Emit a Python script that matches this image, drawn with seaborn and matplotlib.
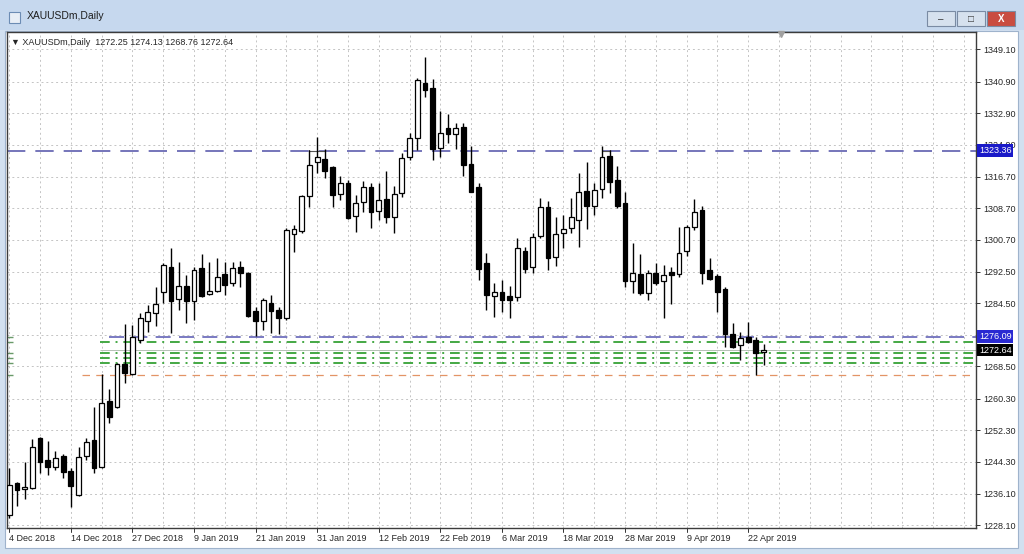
import matplotlib
matplotlib.use("Agg")
import matplotlib.pyplot as plt
import matplotlib.transforms as mtransforms
from matplotlib.patches import Rectangle
import seaborn as sns

# Daily XAUUSDm candles, 4 Dec 2018 .. 24 Apr 2019
opens = [1230.7, 1238.9, 1237.4, 1237.6, 1250.3, 1244.7, 1242.9, 1245.8, 1241.9, 1235.8,
         1245.7, 1249.8, 1242.9, 1259.7, 1258.2, 1269.1, 1266.6, 1275.2, 1280.0, 1282.1,
         1287.4, 1293.8, 1285.6, 1288.9, 1285.1, 1293.5, 1286.9, 1287.7, 1292.0, 1289.7,
         1293.8, 1292.2, 1282.6, 1280.0, 1284.6, 1282.8, 1280.8, 1302.2, 1302.9, 1311.8,
         1320.4, 1321.2, 1319.2, 1312.3, 1315.2, 1306.7, 1310.3, 1314.1, 1308.0, 1311.0,
         1306.4, 1312.6, 1321.7, 1326.6, 1340.5, 1339.2, 1324.0, 1329.1, 1327.6, 1329.4,
         1320.0, 1314.1, 1294.8, 1286.4, 1287.4, 1286.4, 1286.1, 1297.8, 1293.8, 1301.6,
         1309.0, 1296.3, 1302.4, 1303.7, 1305.7, 1313.1, 1309.3, 1313.6, 1322.0, 1315.9,
         1310.0, 1290.2, 1292.0, 1287.1, 1292.2, 1290.2, 1292.5, 1292.0, 1297.8, 1303.9,
         1308.3, 1293.0, 1291.5, 1288.2, 1276.7, 1273.9, 1276.0, 1275.2, 1272.25]
highs = [1242.7, 1239.1, 1244.2, 1250.0, 1250.5, 1249.5, 1247.0, 1246.3, 1242.7, 1248.0,
         1250.3, 1258.2, 1266.6, 1262.7, 1269.4, 1279.3, 1279.0, 1282.1, 1284.1, 1288.7,
         1294.8, 1298.6, 1295.0, 1291.7, 1293.8, 1297.1, 1295.0, 1296.0, 1295.0, 1295.0,
         1295.3, 1292.5, 1283.6, 1285.8, 1286.6, 1283.6, 1303.7, 1304.4, 1312.1, 1323.5,
         1326.8, 1323.8, 1319.4, 1316.9, 1315.9, 1312.1, 1315.6, 1315.2, 1315.2, 1318.2,
         1314.3, 1322.7, 1327.8, 1341.8, 1347.1, 1341.5, 1333.4, 1332.6, 1330.4, 1330.4,
         1324.5, 1315.2, 1297.3, 1289.7, 1290.5, 1288.9, 1301.1, 1298.8, 1302.4, 1311.3,
         1310.5, 1306.5, 1307.0, 1311.3, 1317.7, 1320.4, 1315.2, 1324.5, 1323.5, 1319.5,
         1312.8, 1299.9, 1297.1, 1293.0, 1294.8, 1294.3, 1293.8, 1303.9, 1304.4, 1311.0,
         1309.3, 1296.1, 1292.0, 1288.7, 1279.5, 1277.2, 1279.7, 1276.0, 1274.13]
lows = [1229.9, 1233.0, 1234.8, 1237.3, 1241.4, 1240.9, 1242.2, 1240.1, 1232.7, 1235.5,
        1244.7, 1241.4, 1242.7, 1254.1, 1258.0, 1264.3, 1266.3, 1274.5, 1277.2, 1278.7,
        1284.6, 1277.0, 1282.8, 1279.5, 1280.3, 1286.1, 1286.6, 1287.4, 1286.6, 1288.9,
        1288.7, 1281.0, 1276.2, 1277.7, 1277.0, 1276.7, 1280.3, 1297.6, 1302.4, 1309.0,
        1317.7, 1316.4, 1309.0, 1310.8, 1306.0, 1302.7, 1307.7, 1303.7, 1305.7, 1305.0,
        1302.4, 1311.5, 1320.9, 1323.5, 1337.0, 1320.9, 1321.7, 1325.3, 1323.8, 1316.9,
        1312.8, 1290.5, 1282.8, 1281.0, 1282.3, 1280.8, 1285.1, 1292.2, 1292.2, 1301.1,
        1293.0, 1294.0, 1298.6, 1302.4, 1298.8, 1303.4, 1307.0, 1311.3, 1312.6, 1308.8,
        1288.7, 1287.1, 1286.6, 1285.3, 1289.2, 1280.8, 1284.4, 1291.2, 1296.6, 1303.2,
        1289.5, 1290.5, 1282.3, 1273.4, 1273.2, 1270.1, 1274.4, 1266.3, 1268.76]
closes = [1238.4, 1237.1, 1237.8, 1248.0, 1244.2, 1242.9, 1245.2, 1241.6, 1238.1, 1245.5,
          1249.3, 1242.7, 1259.2, 1255.6, 1269.1, 1266.9, 1276.0, 1280.8, 1282.3, 1284.4,
          1294.3, 1285.1, 1288.9, 1285.1, 1293.0, 1286.4, 1287.7, 1291.2, 1289.2, 1293.5,
          1292.2, 1281.3, 1280.0, 1285.3, 1282.6, 1280.8, 1303.2, 1303.4, 1311.8, 1319.7,
          1321.7, 1318.2, 1312.1, 1315.2, 1306.2, 1310.0, 1314.1, 1307.7, 1310.8, 1306.4,
          1312.3, 1321.5, 1326.6, 1341.3, 1338.7, 1323.8, 1327.8, 1327.6, 1329.1, 1319.7,
          1312.9, 1293.3, 1286.6, 1287.4, 1285.3, 1285.3, 1298.6, 1293.3, 1301.4, 1309.0,
          1296.0, 1302.2, 1303.4, 1306.5, 1312.8, 1309.3, 1313.3, 1321.7, 1315.4, 1309.3,
          1290.2, 1292.2, 1287.1, 1292.2, 1289.7, 1291.7, 1291.7, 1297.3, 1303.9, 1307.7,
          1292.2, 1290.7, 1287.4, 1276.7, 1273.4, 1275.7, 1274.7, 1271.9, 1272.64]

date_labels = ["4 Dec 2018", "14 Dec 2018", "27 Dec 2018", "9 Jan 2019", "21 Jan 2019",
               "31 Jan 2019", "12 Feb 2019", "22 Feb 2019", "6 Mar 2019", "18 Mar 2019",
               "28 Mar 2019", "9 Apr 2019", "22 Apr 2019"]
date_bars = [0, 8, 16, 24, 32, 40, 48, 56, 64, 72, 80, 88, 96]

price_ticks = [1349.10, 1340.90, 1332.90, 1324.90, 1316.70, 1308.70, 1300.70, 1292.50,
               1284.50, 1276.40, 1268.50, 1260.30, 1252.30, 1244.30, 1236.10, 1228.10]

# drawn horizontal levels
res_level = 1323.36
sup_level = 1276.09
green_levels = [1274.77, 1271.98, 1270.55, 1269.28]
orange_level = 1266.30
bid = closes[-1]

sns.set_theme(style="white")
plt.rcParams["font.family"] = ["Liberation Sans", "DejaVu Sans"]

W, H = 1024, 554
fig = plt.figure(figsize=(W / 100, H / 100), dpi=100, facecolor="#D2E0F0")


def fx(px):
    return px / W


def fy(py):
    return 1 - py / H


# window chrome
fig.patches.append(Rectangle((0, fy(30)), 1, 30 / H, transform=fig.transFigure,
                             fc="#C6D8EE", ec="none", zorder=-3))
fig.patches.append(Rectangle((fx(5), fy(548)), fx(1013), (548 - 31) / H,
                             transform=fig.transFigure, fc="white", ec="#9FB3CC", lw=0.8,
                             zorder=-3))
fig.patches.append(Rectangle((fx(9), fy(23)), fx(11), 11 / H, transform=fig.transFigure,
                             fc="#E8EEF6", ec="#6C8CB4", lw=0.8, zorder=-2))
fig.text(fx(27), fy(16), "XAUUSDm,Daily", fontsize=7.5, va="center", color="#1E1E1E")
for x0, col in [(927, "#D6E1EE"), (957, "#D6E1EE"), (987, "#C94C40")]:
    fig.patches.append(Rectangle((fx(x0), fy(26)), fx(28), 15 / H, transform=fig.transFigure,
                                 fc=col, ec="#7A8BA3", lw=0.8, zorder=-2))
fig.text(fx(941), fy(19), "–", fontsize=7, ha="center", va="center", color="#333333")
fig.text(fx(971), fy(18.5), "□", fontsize=7, ha="center", va="center", color="#333333")
fig.text(fx(1001), fy(18.5), "X", fontsize=7, ha="center", va="center", color="white",
         fontweight="bold")

ax = fig.add_axes([fx(7), fy(528), (976 - 7) / W, (528 - 32) / H])
ax.set_zorder(5)
ax.set_facecolor("white")

x = list(range(len(opens)))
ax.vlines(x, lows, highs, color="black", lw=1, zorder=3)
bull = [i for i in x if closes[i] >= opens[i]]
bear = [i for i in x if closes[i] < opens[i]]
ax.bar(bull, [max(closes[i] - opens[i], 0.3) for i in bull],
       bottom=[opens[i] for i in bull], width=0.62, color="white", edgecolor="black",
       linewidth=0.9, zorder=4)
ax.bar(bear, [max(opens[i] - closes[i], 0.3) for i in bear],
       bottom=[closes[i] for i in bear], width=0.62, color="black", edgecolor="black",
       linewidth=0.9, zorder=4)

xmin, xmax = -0.3, 125.6
ax.set_xlim(xmin, xmax)
ax.set_ylim(1227.42, 1353.5)

# levels
ax.hlines(res_level, xmin, xmax, color="#5E5EAE", lw=1.2, linestyles=(0, (11, 6)), zorder=2)
ax.hlines(sup_level, 13, xmax, color="#6464B8", lw=1.2, linestyles=(0, (9, 5)), zorder=2)
for g in green_levels:
    ax.hlines(g, 11.8, xmax, color="#44A844", lw=1.4, linestyles=(0, (5, 3, 1, 3)), zorder=2)
ax.hlines(orange_level, 9.5, xmax, color="#E39466", lw=0.9, linestyles=(0, (6, 5)), zorder=2)
ax.hlines(bid, 11.8, xmax, color="#A8B8A8", lw=0.6, zorder=1.5)
for lv in [sup_level] + green_levels + [orange_level]:
    ax.hlines(lv, xmin, 0.5, color="#6A9A6A", lw=1, zorder=2)
# small solid connectors at the resistance level
ax.plot([39, 39, 41], [highs[39], res_level, res_level], color="#555555", lw=0.8, zorder=2.5)
ax.plot([77, 78, 78], [res_level, res_level, highs[78]], color="#555555", lw=0.8, zorder=2.5)

# grid and axes
ax.set_xticks(range(0, 126, 4))
ax.set_xticklabels([""] * len(range(0, 126, 4)))
ax.set_yticks(price_ticks)
ax.set_yticklabels(["" if abs(p - 1276.40) < 0.01 else f"{p:.2f}" for p in price_ticks])
ax.yaxis.tick_right()
ax.tick_params(axis="y", direction="out", length=3, width=0.7, color="#333333",
               labelsize=6.5, pad=2, right=True, left=False)
ax.tick_params(axis="x", length=0)
ax.grid(True, color="#C4C4C4", lw=0.7, linestyle=(0, (2, 3)))
for s in ax.spines.values():
    s.set_color("#3C3C3C")
    s.set_linewidth(1)

trans_x = mtransforms.blended_transform_factory(ax.transData, ax.transAxes)
for b, lab in zip(date_bars, date_labels):
    ax.plot([b, b], [0, -0.008], transform=trans_x, color="#333333", lw=0.7, clip_on=False)
    ax.text(b, -0.012, lab, transform=trans_x, fontsize=6.5, ha="left", va="top")

trans_y = mtransforms.blended_transform_factory(ax.transAxes, ax.transData)
for val, fc in [(res_level, "#1A1AC8"), (sup_level, "#2A2AD2"), (bid, "black")]:
    ax.text(1.003, val, f"{val:.2f}", transform=trans_y, fontsize=6.5, color="white",
            va="center", ha="left", zorder=10, clip_on=False,
            bbox=dict(boxstyle="square,pad=0.2", fc=fc, ec="none"))

ax.text(0.004, 0.988,
        f"▼ XAUUSDm,Daily  {opens[-1]:.2f} {highs[-1]:.2f} {lows[-1]:.2f} {closes[-1]:.2f}",
        transform=ax.transAxes, fontsize=6.5, va="top", ha="left",
        family=["Liberation Sans", "DejaVu Sans"])
ax.plot([100.3], [1353.0], marker="v", color="#A0A0A0", ms=4, clip_on=False, zorder=5)

fig.savefig("out.png", dpi=100, facecolor=fig.get_facecolor())
